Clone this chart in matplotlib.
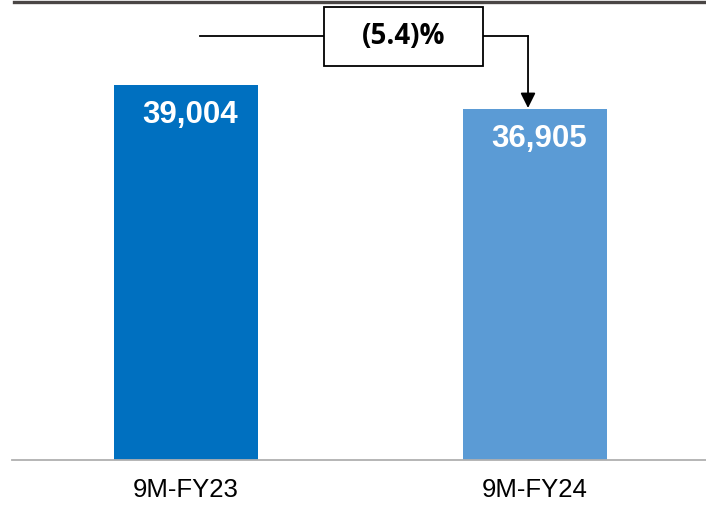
import matplotlib
matplotlib.use("Agg")
import matplotlib.pyplot as plt
from matplotlib.lines import Line2D
from matplotlib.patches import Rectangle

categories = ["9M-FY23", "9M-FY24"]
values = [39004, 36905]
value_labels = ["39,004", "36,905"]
change_label = "(5.4)%"
colors = ["#0070C0", "#5B9BD5"]

W, H = 706, 505
fig = plt.figure(figsize=(W / 100, H / 100), dpi=100)
ax = fig.add_axes([12 / W, 1 - 460 / H, 1 - 12 / W, 460 / H])

x = list(range(len(categories)))
ax.bar(x, values, width=0.41, color=colors, zorder=2)
ax.set_xlim(-0.4986, 1.49)
ax.set_ylim(6200, 46431)

for xi, v, lab in zip(x, values, value_labels):
    ax.annotate(lab, xy=(xi, v), xytext=(3, -22), textcoords="offset points",
                ha="center", va="center", color="white", fontsize=22.5,
                fontweight="bold", family="Liberation Sans", zorder=3)

ax.set_xticks(x)
ax.set_xticklabels(categories, fontsize=18.5, family="Liberation Sans")
ax.tick_params(axis="x", length=0, pad=13)
ax.set_yticks([])
for s in ["top", "left", "right"]:
    ax.spines[s].set_visible(False)
ax.spines["bottom"].set_color("#b0b0b0")
ax.spines["bottom"].set_linewidth(1.3)

# change annotation (box + connector)
tr = ax.get_xaxis_transform()
yline = 0.9217
ax.plot([0.040, 0.395], [yline, yline], color="black", lw=1.3, transform=tr, zorder=4, clip_on=False)
ax.plot([0.851, 0.98], [yline, yline], color="black", lw=1.3, transform=tr, zorder=4, clip_on=False)
ytop_axes = (values[1] - 6200) / (46431 - 6200)
ax.annotate("", xy=(0.98, ytop_axes + 0.002), xytext=(0.98, yline), xycoords=tr, textcoords=tr,
            arrowprops=dict(arrowstyle="-|>,head_length=0.9,head_width=0.45", color="black", lw=1.3,
                            shrinkA=0, shrinkB=0), zorder=4)
box = Rectangle((0.395, 0.8565), 0.851 - 0.395, 0.9848 - 0.8565, transform=tr,
                facecolor="white", edgecolor="black", lw=1.3, zorder=5, clip_on=False)
ax.add_patch(box)
ax.text((0.395 + 0.851) / 2, (0.8565 + 0.9848) / 2, change_label, transform=tr,
        ha="center", va="center", fontsize=20, fontweight="bold", family="Open Sans", zorder=6)

# top dark rule
fig.add_artist(Line2D([14 / W, 1], [1 - 1.5 / H, 1 - 1.5 / H], color="#4a4645", lw=2.4,
                      transform=fig.transFigure))

fig.savefig("out.png", dpi=100)
